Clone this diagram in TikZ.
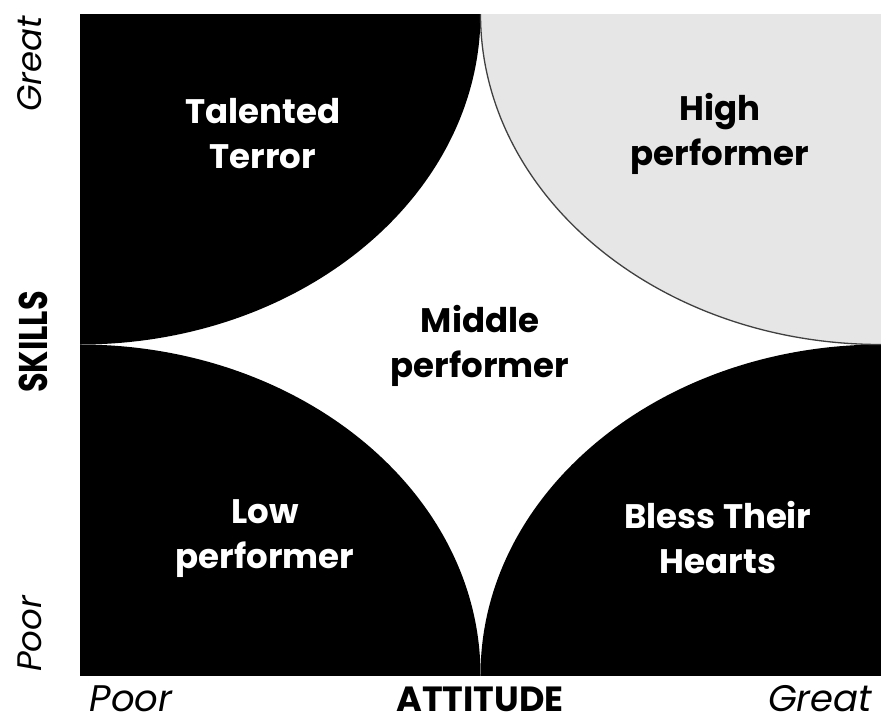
\documentclass[tikz,border=0pt]{standalone}
\usepackage{fontspec}
\setmainfont{Poppins}
\definecolor{hpgray}{HTML}{E6E6E6}
\begin{document}
\begin{tikzpicture}[x=1pt,y=-1pt,
  quad/.style={font=\bfseries\fontsize{34}{45}\selectfont, align=center, inner sep=0pt},
  wtext/.style={quad, text=white},
  btext/.style={quad, text=black},
  axis/.style={font=\bfseries\fontsize{35}{37}\selectfont, inner sep=0pt, text depth=0pt, anchor=base},
  tick/.style={font=\itshape\fontsize{37}{39}\selectfont, inner sep=0pt, text depth=0pt, anchor=base},
  vtick/.style={font=\itshape\fontsize{34}{36}\selectfont, inner sep=0pt, rotate=90}]
\useasboundingbox (0,0) rectangle (881,724);
\fill[white] (0,0) rectangle (881,724);
% grid square
\fill[white] (80,14) rectangle (881,675);
\begin{scope}
  \clip (80,14) rectangle (881,675);
  \fill[black] (80,14) ellipse [x radius=400.5, y radius=330.5];
  \fill[black] (80,675) ellipse [x radius=400.5, y radius=330.5];
  \fill[black] (881,675) ellipse [x radius=400.5, y radius=330.5];
  \filldraw[fill=hpgray, draw=black!75, line width=1.3pt] (881,14) ellipse [x radius=400.5, y radius=330.5];
\end{scope}
% quadrant labels
\node[wtext] (tt) at (263,134) {Talented\\Terror};
\node[btext] (hp) at (720,134) {High\\performer};
\node[btext] (mp) at (480,346) {Middle\\performer};
\node[wtext] (lp) at (265,539) {Low\\performer};
\node[wtext] (bh) at (718,538) {Bless Their\\Hearts};
% axes
\node[rotate=90, inner sep=0pt, font=\bfseries\fontsize{40}{42}\selectfont] (skills) at (33,342) {\scalebox{0.8}[1]{SKILLS}};
\node[axis] (att) at (480,711) {ATTITUDE};
\node[tick] (px) at (131,711) {Poor};
\node[tick] (gx) at (820,711) {Great};
\node[vtick] (gy) at (30,64) {Great};
\node[vtick] (py) at (30,634) {Poor};
\end{tikzpicture}
\end{document}
